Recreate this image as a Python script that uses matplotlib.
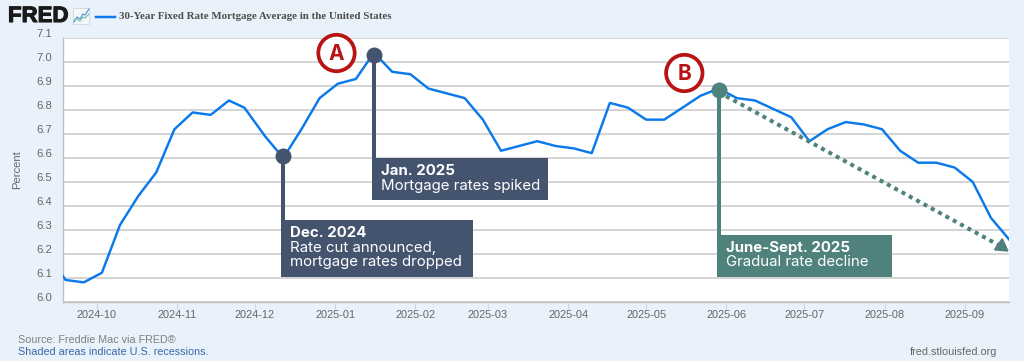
import numpy as np
import matplotlib
matplotlib.use('Agg')
import matplotlib.pyplot as plt
import matplotlib.dates as mdates
import matplotlib.patheffects as pe
from matplotlib.patches import Circle, Rectangle
from matplotlib.transforms import ScaledTranslation
from datetime import datetime

# weekly readings, Sep 12 2024 point sits just left of the axis and gets clipped
fechas = ["2024-09-12","2024-09-19","2024-09-26","2024-10-03","2024-10-10","2024-10-17","2024-10-24","2024-10-31",
          "2024-11-07","2024-11-14","2024-11-21","2024-11-27","2024-12-05","2024-12-12","2024-12-19","2024-12-26",
          "2025-01-02","2025-01-09","2025-01-16","2025-01-23","2025-01-30","2025-02-06","2025-02-13","2025-02-20",
          "2025-02-27","2025-03-06","2025-03-13","2025-03-20","2025-03-27","2025-04-03","2025-04-10","2025-04-17",
          "2025-04-24","2025-05-01","2025-05-08","2025-05-15","2025-05-22","2025-05-29","2025-06-05","2025-06-12",
          "2025-06-18","2025-06-26","2025-07-03","2025-07-10","2025-07-17","2025-07-24","2025-07-31","2025-08-07",
          "2025-08-14","2025-08-21","2025-08-28","2025-09-04","2025-09-11","2025-09-18"]
tasas = [6.20,6.09,6.08,6.12,6.32,6.44,6.54,6.72,
         6.79,6.78,6.84,6.81,6.69,6.60,6.72,6.85,
         6.91,6.93,7.04,6.96,6.95,6.89,6.87,6.85,
         6.76,6.63,6.65,6.67,6.65,6.64,6.62,6.83,
         6.81,6.76,6.76,6.81,6.86,6.89,6.85,6.84,
         6.81,6.77,6.67,6.72,6.75,6.74,6.72,6.63,
         6.58,6.58,6.56,6.50,6.35,6.26]

yticks = [6.0,6.1,6.2,6.3,6.4,6.5,6.6,6.7,6.8,6.9,7.0,7.1]
xticks = ["2024-10-01","2024-11-01","2024-12-01","2025-01-01","2025-02-01","2025-03-01",
          "2025-04-01","2025-05-01","2025-06-01","2025-07-01","2025-08-01","2025-09-01"]

marca_fechas = ["2024-12-12","2025-01-16","2025-05-29"]
marca_valores = [6.61,7.03,6.885]
marca_bases = [6.33,6.58,6.27]
tendencia_fechas = ["2025-05-29","2025-09-15"]
tendencia_valores = [6.875,6.23]

def fecha(s):
    return datetime.strptime(s,"%Y-%m-%d")

W,H = 1024,361
fondo = "#E9F1FA"
azul = "#0A7AEA"
oscuro = "#44546F"
verde = "#4F827C"
rojo = "#B81414"
gris = "#666666"

plt.rcParams['font.family'] = ['Liberation Sans','DejaVu Sans']

fig = plt.figure(figsize=(W/100,H/100),dpi=100,facecolor=fondo)
ax = fig.add_axes([63/W,1-301.5/H,946/W,263.2/H])
ax.set_facecolor("white")

x = [fecha(f) for f in fechas]
ax.plot(x,tasas,color=azul,lw=1.75,zorder=3,solid_joinstyle='round')

ax.set_xlim(fecha("2024-09-18"),fecha("2025-09-18"))
ax.set_ylim(6.0,7.1)
ax.set_yticks(yticks)
ax.set_yticklabels(["%.1f"%v for v in yticks])
ax.set_xticks([fecha(f) for f in xticks])
ax.xaxis.set_major_formatter(mdates.DateFormatter("%Y-%m"))
ax.grid(axis='y',color="#C9C9C9",lw=1.1)
ax.set_axisbelow(True)
ax.tick_params(axis='y',length=0,labelsize=8.1,labelcolor=gris,pad=7.7)
ax.tick_params(axis='x',length=5,width=0.8,color="#CCD6EB",labelsize=7.9,labelcolor=gris,pad=0.8)
for l in ax.get_yticklabels():
    l.set_transform(l.get_transform()+ScaledTranslation(0,5/100,fig.dpi_scale_trans))
for s in ['top','right']:
    ax.spines[s].set_visible(False)
ax.spines['left'].set_color("#C0C0C0")
ax.spines['bottom'].set_color("#C0C0C0")
ax.spines['left'].set_linewidth(1.0)
ax.spines['bottom'].set_linewidth(1.0)

# capa en pixeles para cajas, logo, etc
capa = fig.add_axes([0,0,1,1])
capa.set_xlim(0,W)
capa.set_ylim(H,0)
capa.axis('off')
capa.patch.set_alpha(0)

capa.text(17,170,"Percent",fontsize=8.1,color=gris,rotation=90,ha='center',va='center')

# linea de tendencia
t_x = [fecha(f) for f in tendencia_fechas]
ax.plot(t_x,tendencia_valores,color=verde,lw=2.9,ls=(0,(1,1.07)),zorder=4,clip_on=False)
ax.plot(t_x[1],tendencia_valores[1],marker=(3,0,-5),ms=11,color=verde,mec=verde,mew=1.2,zorder=4,clip_on=False)

# tallos y puntos
colores = [oscuro,oscuro,verde]
for f,v,b,c in zip(marca_fechas,marca_valores,marca_bases,colores):
    ax.plot([fecha(f),fecha(f)],[b,v],color=c,lw=2.9,zorder=5,solid_capstyle='butt')
    ax.plot(fecha(f),v,'o',ms=11.5,color=c,mec='none',zorder=6,clip_on=False)

def caja(x0,y0,x1,y1,color,lineas):
    capa.add_patch(Rectangle((x0,y0),x1-x0,y1-y0,color=color,lw=0,zorder=7))
    for i,(txt,yy) in enumerate(lineas):
        capa.text(x0+9,yy,txt,color="white",fontsize=10.8,family=['Inter','DejaVu Sans'],
                  fontweight='bold' if i==0 else 'normal',va='center',ha='left',zorder=8)

caja(281,220,473,277,oscuro,[("Dec. 2024",233),("Rate cut announced,",248),("mortgage rates dropped",262)])
caja(372,158,548,200,oscuro,[("Jan. 2025",171),("Mortgage rates spiked",186)])
caja(717,235,892,277,verde,[("June-Sept. 2025",248),("Gradual rate decline",262)])

for cx,cy,letra in [(336.5,53,"A"),(684.3,73,"B")]:
    capa.add_patch(Circle((cx,cy),18.2,fc="white",ec=rojo,lw=2.7,zorder=8))
    capa.text(cx,cy+0.5,letra,color=rojo,fontsize=15,fontweight='bold',family=['Inter','DejaVu Sans'],
              ha='center',va='center',zorder=9)

# encabezado
capa.text(8,16.5,"FRED",fontsize=16,fontweight='bold',color="#1A1A1A",family=['Liberation Sans'],va='center',ha='left',
          path_effects=[pe.withStroke(linewidth=0.8,foreground="#1A1A1A")])
capa.add_patch(Rectangle((73,8),16,16,fc="#F4F7FA",ec="#D5D5D5",lw=0.6))
capa.plot([74,77,80,83,85,89],[22,17,19,14,15,9],color="#4A90D9",lw=0.8)
capa.plot([74,77,80,83,85,89],[20,19,21,17,18,14],color="#6CBFA8",lw=0.8)
capa.plot([96,115],[16.5,16.5],color=azul,lw=1.75)
capa.text(119,16.5,"30-Year Fixed Rate Mortgage Average in the United States",fontsize=7.87,fontweight='bold',
          color="#4D4D4D",family=['Liberation Serif'],va='center',ha='left')

# pie
capa.text(18,340,"Source: Freddie Mac via FRED\u00ae",fontsize=7.75,color="#808080",va='center',ha='left')
capa.text(18,352,"Shaded areas indicate U.S. recessions.",fontsize=7.75,color="#3A68A8",va='center',ha='left')
capa.text(997,352,"fred.stlouisfed.org",fontsize=7.8,color=gris,va='center',ha='right')

fig.savefig("out.png",dpi=100,facecolor=fondo)
